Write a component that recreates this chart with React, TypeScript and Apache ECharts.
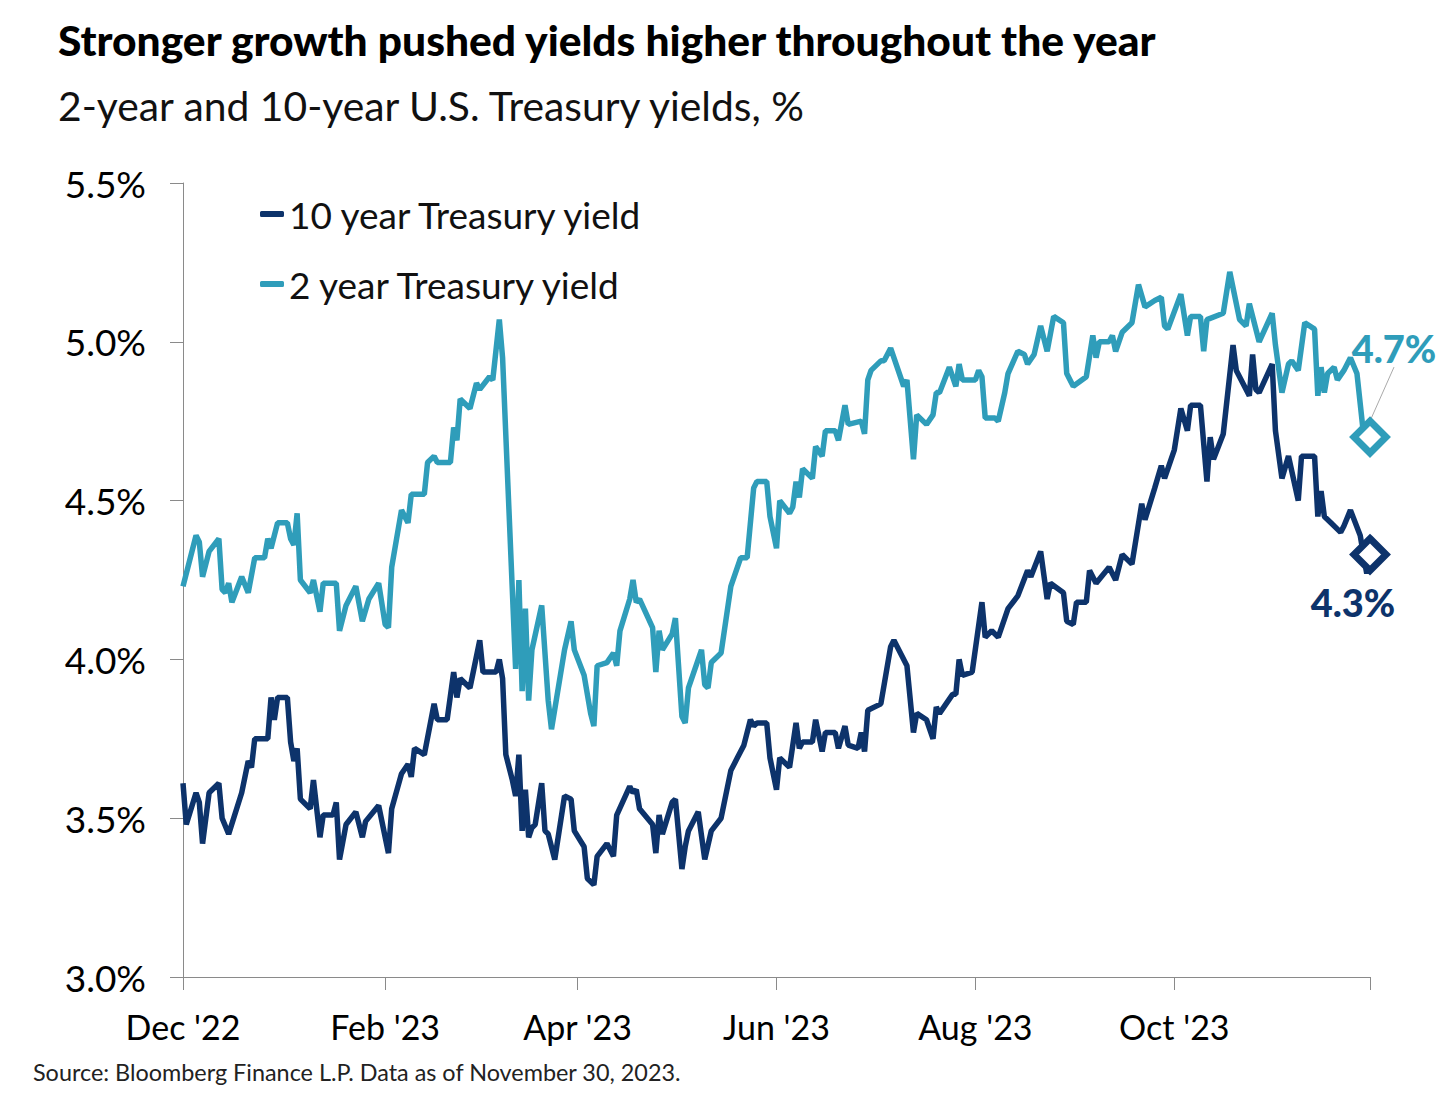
import React, { useEffect, useRef } from 'react';
import * as echarts from 'echarts';

const NAVY = '#0d336b';
const TEAL = '#2f9dba';
const AXIS = '#8a8a8a';
const FONT = 'Lato, "Noto Sans", sans-serif';

const seriesNames = ['10 year Treasury yield', '2 year Treasury yield'];

const tenYearDates = [
  '2022-12-01','2022-12-02','2022-12-05','2022-12-06','2022-12-07','2022-12-09','2022-12-12','2022-12-13','2022-12-15','2022-12-19',
  '2022-12-21','2022-12-22','2022-12-23','2022-12-27','2022-12-28','2022-12-29','2022-12-30','2023-01-02','2023-01-03','2023-01-04',
  '2023-01-05','2023-01-06','2023-01-09','2023-01-10','2023-01-12','2023-01-13','2023-01-16','2023-01-17','2023-01-18','2023-01-20',
  '2023-01-23','2023-01-25','2023-01-26','2023-01-30','2023-01-31','2023-02-02','2023-02-03','2023-02-06','2023-02-08','2023-02-09',
  '2023-02-10','2023-02-13','2023-02-16','2023-02-17','2023-02-20','2023-02-22','2023-02-23','2023-02-24','2023-02-27','2023-02-28',
  '2023-03-02','2023-03-03','2023-03-07','2023-03-08','2023-03-09','2023-03-10','2023-03-12','2023-03-13','2023-03-14','2023-03-15',
  '2023-03-16','2023-03-17','2023-03-18','2023-03-19','2023-03-21','2023-03-22','2023-03-23','2023-03-25','2023-03-28','2023-03-30',
  '2023-03-31','2023-04-03','2023-04-04','2023-04-06','2023-04-07','2023-04-10','2023-04-12','2023-04-13','2023-04-17','2023-04-18',
  '2023-04-19','2023-04-20','2023-04-24','2023-04-25','2023-04-26','2023-04-27','2023-04-30','2023-05-01','2023-05-03','2023-05-04',
  '2023-05-05','2023-05-08','2023-05-10','2023-05-12','2023-05-15','2023-05-18','2023-05-20','2023-05-22','2023-05-24','2023-05-25',
  '2023-05-26','2023-05-29','2023-05-30','2023-06-01','2023-06-02','2023-06-05','2023-06-07','2023-06-08','2023-06-09','2023-06-12',
  '2023-06-13','2023-06-15','2023-06-16','2023-06-19','2023-06-20','2023-06-22','2023-06-23','2023-06-26','2023-06-27','2023-06-28',
  '2023-06-29','2023-07-03','2023-07-06','2023-07-07','2023-07-11','2023-07-13','2023-07-14','2023-07-17','2023-07-19','2023-07-20',
  '2023-07-21','2023-07-25','2023-07-26','2023-07-27','2023-07-28','2023-07-31','2023-08-03','2023-08-04','2023-08-06','2023-08-08',
  '2023-08-11','2023-08-14','2023-08-17','2023-08-18','2023-08-21','2023-08-23','2023-08-24','2023-08-28','2023-08-29','2023-08-31',
  '2023-09-01','2023-09-04','2023-09-05','2023-09-07','2023-09-11','2023-09-13','2023-09-15','2023-09-18','2023-09-21','2023-09-22',
  '2023-09-25','2023-09-27','2023-09-28','2023-10-01','2023-10-03','2023-10-05','2023-10-06','2023-10-09','2023-10-11','2023-10-12',
  '2023-10-13','2023-10-16','2023-10-19','2023-10-20','2023-10-24','2023-10-25','2023-10-26','2023-10-27','2023-10-31','2023-11-01',
  '2023-11-03','2023-11-05','2023-11-08','2023-11-09','2023-11-13','2023-11-14','2023-11-15','2023-11-16','2023-11-18','2023-11-21',
  '2023-11-22','2023-11-24','2023-11-27','2023-11-29','2023-11-30',
];
const tenYearValues = [
  3.61,3.48,3.58,3.55,3.42,3.58,3.61,3.50,3.45,3.58,
  3.68,3.66,3.75,3.75,3.88,3.81,3.88,3.88,3.74,3.68,
  3.72,3.56,3.53,3.62,3.44,3.51,3.51,3.55,3.37,3.48,
  3.52,3.44,3.49,3.54,3.49,3.39,3.53,3.64,3.67,3.63,
  3.72,3.70,3.86,3.81,3.81,3.96,3.88,3.94,3.91,3.96,
  4.06,3.96,3.96,4.00,3.94,3.70,3.62,3.57,3.70,3.46,
  3.59,3.44,3.47,3.48,3.61,3.46,3.45,3.37,3.57,3.56,
  3.46,3.41,3.31,3.29,3.38,3.42,3.38,3.51,3.60,3.58,
  3.59,3.53,3.48,3.39,3.51,3.45,3.55,3.56,3.34,3.41,
  3.46,3.52,3.37,3.46,3.50,3.65,3.69,3.73,3.81,3.79,
  3.80,3.80,3.69,3.59,3.69,3.66,3.80,3.72,3.74,3.74,
  3.81,3.71,3.77,3.77,3.72,3.79,3.73,3.72,3.77,3.71,
  3.84,3.86,4.04,4.06,3.98,3.77,3.83,3.81,3.75,3.85,
  3.83,3.89,3.89,4.00,3.95,3.96,4.18,4.07,4.09,4.07,
  4.16,4.20,4.28,4.26,4.34,4.19,4.24,4.21,4.12,4.11,
  4.18,4.18,4.28,4.24,4.29,4.25,4.33,4.30,4.49,4.44,
  4.54,4.61,4.57,4.66,4.79,4.72,4.80,4.80,4.56,4.70,
  4.63,4.71,4.99,4.91,4.83,4.96,4.85,4.84,4.93,4.72,
  4.57,4.64,4.50,4.64,4.64,4.45,4.53,4.45,4.43,4.40,
  4.42,4.47,4.39,4.27,4.33,
];

const twoYearDates = [
  '2022-12-01','2022-12-05','2022-12-06','2022-12-07','2022-12-09','2022-12-12','2022-12-13','2022-12-14','2022-12-15','2022-12-16',
  '2022-12-19','2022-12-21','2022-12-23','2022-12-26','2022-12-27','2022-12-28','2022-12-30','2023-01-02','2023-01-03','2023-01-04',
  '2023-01-05','2023-01-06','2023-01-09','2023-01-10','2023-01-12','2023-01-13','2023-01-17','2023-01-18','2023-01-20','2023-01-23',
  '2023-01-25','2023-01-27','2023-01-30','2023-02-01','2023-02-02','2023-02-03','2023-02-06','2023-02-08','2023-02-09','2023-02-13',
  '2023-02-14','2023-02-16','2023-02-17','2023-02-21','2023-02-22','2023-02-23','2023-02-24','2023-02-27','2023-03-01','2023-03-02',
  '2023-03-05','2023-03-06','2023-03-08','2023-03-09','2023-03-13','2023-03-14','2023-03-15','2023-03-16','2023-03-17','2023-03-18',
  '2023-03-21','2023-03-23','2023-03-24','2023-03-28','2023-03-30','2023-03-31','2023-04-03','2023-04-05','2023-04-06','2023-04-07',
  '2023-04-10','2023-04-12','2023-04-13','2023-04-14','2023-04-17','2023-04-18','2023-04-19','2023-04-20','2023-04-24','2023-04-25',
  '2023-04-26','2023-04-27','2023-04-30','2023-05-01','2023-05-03','2023-05-04','2023-05-05','2023-05-09','2023-05-10','2023-05-11',
  '2023-05-12','2023-05-15','2023-05-18','2023-05-21','2023-05-23','2023-05-25','2023-05-26','2023-05-29','2023-05-30','2023-06-01',
  '2023-06-02','2023-06-05','2023-06-06','2023-06-07','2023-06-08','2023-06-09','2023-06-12','2023-06-13','2023-06-15','2023-06-16',
  '2023-06-19','2023-06-20','2023-06-22','2023-06-23','2023-06-27','2023-06-28','2023-06-29','2023-06-30','2023-07-03','2023-07-04',
  '2023-07-06','2023-07-10','2023-07-11','2023-07-13','2023-07-14','2023-07-17','2023-07-19','2023-07-20','2023-07-21','2023-07-24',
  '2023-07-26','2023-07-27','2023-07-28','2023-08-01','2023-08-02','2023-08-03','2023-08-04','2023-08-07','2023-08-08','2023-08-10',
  '2023-08-11','2023-08-14','2023-08-16','2023-08-17','2023-08-19','2023-08-21','2023-08-23','2023-08-25','2023-08-28','2023-08-29',
  '2023-08-31','2023-09-04','2023-09-06','2023-09-07','2023-09-08','2023-09-11','2023-09-12','2023-09-13','2023-09-15','2023-09-18',
  '2023-09-20','2023-09-22','2023-09-25','2023-09-27','2023-09-28','2023-09-29','2023-10-03','2023-10-05','2023-10-06','2023-10-09',
  '2023-10-10','2023-10-11','2023-10-16','2023-10-18','2023-10-21','2023-10-23','2023-10-24','2023-10-27','2023-10-31','2023-11-01',
  '2023-11-03','2023-11-05','2023-11-06','2023-11-08','2023-11-10','2023-11-13','2023-11-14','2023-11-15','2023-11-16','2023-11-17',
  '2023-11-19','2023-11-20','2023-11-22','2023-11-24','2023-11-26','2023-11-28','2023-11-30',
];
const twoYearValues = [
  4.23,4.39,4.37,4.26,4.34,4.38,4.22,4.21,4.24,4.18,
  4.26,4.21,4.32,4.32,4.38,4.35,4.43,4.43,4.38,4.36,
  4.46,4.25,4.21,4.25,4.15,4.24,4.24,4.09,4.17,4.23,
  4.12,4.19,4.24,4.11,4.10,4.29,4.47,4.43,4.52,4.52,
  4.62,4.64,4.62,4.62,4.73,4.69,4.82,4.79,4.87,4.85,
  4.89,4.88,5.07,4.95,3.97,4.25,3.90,4.16,3.87,4.03,
  4.17,3.87,3.78,4.03,4.12,4.03,3.95,3.83,3.79,3.98,
  3.99,4.02,3.98,4.09,4.19,4.25,4.18,4.19,4.10,3.96,
  4.09,4.03,4.08,4.13,3.82,3.80,3.91,4.03,3.92,3.91,
  3.99,4.02,4.23,4.32,4.32,4.54,4.56,4.56,4.45,4.35,
  4.50,4.46,4.48,4.56,4.51,4.60,4.57,4.67,4.64,4.72,
  4.72,4.69,4.80,4.74,4.75,4.71,4.88,4.91,4.94,4.94,
  4.98,4.86,4.88,4.63,4.77,4.74,4.77,4.84,4.84,4.92,
  4.86,4.93,4.88,4.88,4.91,4.89,4.76,4.76,4.75,4.84,
  4.90,4.97,4.96,4.93,4.96,5.05,4.97,5.08,5.06,4.90,
  4.86,4.89,5.02,4.95,5.00,5.00,5.02,4.97,5.03,5.06,
  5.18,5.11,5.13,5.14,5.05,5.04,5.15,5.02,5.08,5.08,
  4.97,5.07,5.09,5.22,5.07,5.05,5.12,5.00,5.09,4.99,
  4.84,4.93,4.94,4.91,5.06,5.04,4.83,4.92,4.84,4.90,
  4.92,4.88,4.91,4.95,4.90,4.71,4.70,
];

const axisStart = '2022-12-01';
const axisEnd = '2023-11-30';
const xLabelDates = ['2022-12-01', '2023-02-01', '2023-04-01', '2023-06-01', '2023-08-01', '2023-10-01'];
const xTickDates = [...xLabelDates, '2023-11-30'];
const monthNames = ['Jan', 'Feb', 'Mar', 'Apr', 'May', 'Jun', 'Jul', 'Aug', 'Sep', 'Oct', 'Nov', 'Dec'];

const yMin = 3.0;
const yMax = 5.5;
const yStep = 0.5;

const titleText = 'Stronger growth pushed yields higher throughout the year';
const subtitleText = '2-year and 10-year U.S. Treasury yields, %';
const sourceText = 'Source: Bloomberg Finance L.P. Data as of November 30, 2023.';

function ts(s: string): number {
  const [y, m, d] = s.split('-').map(Number);
  return new Date(y, m - 1, d).getTime();
}

function pairs(dates: string[], values: number[]) {
  return dates.map((d, i) => [ts(d), values[i]]);
}

export default function App() {
  const ref = useRef<HTMLDivElement>(null);

  useEffect(() => {
    if (!ref.current) return;
    const chart = echarts.init(ref.current, undefined, { renderer: 'svg' });

    const tenLast = tenYearValues.length - 1;
    const twoLast = twoYearValues.length - 1;

    const option: any = {
      animation: false,
      backgroundColor: '#ffffff',
      title: [
        {
          text: titleText,
          left: 58,
          top: 17,
          padding: 0,
          textStyle: { fontFamily: FONT, fontSize: 42.5, fontWeight: 900, color: '#000', lineHeight: 44 },
        },
        {
          text: subtitleText,
          left: 58,
          top: 84,
          padding: 0,
          textStyle: { fontFamily: FONT, fontSize: 40.8, fontWeight: 'normal', color: '#111', lineHeight: 42 },
        },
        {
          text: sourceText,
          left: 33,
          top: 1059,
          padding: 0,
          textStyle: { fontFamily: FONT, fontSize: 23.4, fontWeight: 'normal', color: '#222', lineHeight: 26 },
        },
      ],
      legend: {
        data: seriesNames,
        orient: 'vertical',
        left: 260,
        top: 193,
        padding: 0,
        itemGap: 28,
        itemWidth: 24,
        itemHeight: 6,
        icon: 'roundRect',
        textStyle: { fontFamily: FONT, fontSize: 37, color: '#111', lineHeight: 42 },
      },
      grid: { left: 183, right: 70, top: 183, bottom: 125, containLabel: false },
      xAxis: {
        type: 'value',
        min: ts(axisStart),
        max: ts(axisEnd),
        axisLine: { show: true, lineStyle: { color: AXIS, width: 1 } },
        axisTick: { show: true, length: 13, lineStyle: { color: AXIS, width: 1 }, customValues: xTickDates.map(ts) },
        axisLabel: {
          customValues: xLabelDates.map(ts),
          fontFamily: FONT,
          fontSize: 34,
          color: '#000',
          margin: 32,
          formatter: (v: number) => {
            const d = new Date(v);
            return `${monthNames[d.getMonth()]} '${String(d.getFullYear()).slice(2)}`;
          },
        },
        splitLine: { show: false },
      },
      yAxis: {
        type: 'value',
        min: yMin,
        max: yMax,
        interval: yStep,
        axisLine: { show: true, lineStyle: { color: AXIS, width: 1 } },
        axisTick: { show: true, length: 13, lineStyle: { color: AXIS, width: 1 } },
        axisLabel: {
          fontFamily: FONT,
          fontSize: 37,
          color: '#000',
          margin: 37,
          formatter: (v: number) => `${v.toFixed(1)}%`,
        },
        splitLine: { show: false },
      },
      series: [
        {
          name: seriesNames[0],
          type: 'line',
          data: pairs(tenYearDates, tenYearValues),
          symbol: 'none',
          color: NAVY,
          lineStyle: { color: NAVY, width: 5.5 },
          z: 3,
        },
        {
          name: seriesNames[1],
          type: 'line',
          data: pairs(twoYearDates, twoYearValues),
          symbol: 'none',
          color: TEAL,
          lineStyle: { color: TEAL, width: 5.5 },
          z: 2,
        },
        {
          name: 'end2',
          type: 'scatter',
          data: [[ts(twoYearDates[twoLast]), twoYearValues[twoLast]]],
          symbol: 'diamond',
          symbolSize: 32,
          itemStyle: { color: '#ffffff', borderColor: TEAL, borderWidth: 7, opacity: 1 },
          label: {
            show: true,
            position: 'inside',
            formatter: (p: any) => `${p.value[1].toFixed(1)}%`,
            fontFamily: FONT,
            fontSize: 38,
            fontWeight: 900,
            color: TEAL,
          },
          labelLayout: { dx: 24, dy: -89 },
          labelLine: { show: true, lineStyle: { color: '#aaaaaa', width: 1 } },
          z: 10,
        },
        {
          name: 'end10',
          type: 'scatter',
          data: [[ts(tenYearDates[tenLast]), tenYearValues[tenLast]]],
          symbol: 'diamond',
          symbolSize: 32,
          itemStyle: { color: '#ffffff', borderColor: NAVY, borderWidth: 7, opacity: 1 },
          label: {
            show: true,
            position: 'inside',
            formatter: (p: any) => `${p.value[1].toFixed(1)}%`,
            fontFamily: FONT,
            fontSize: 38,
            fontWeight: 900,
            color: NAVY,
          },
          labelLayout: { dx: -17, dy: 47 },
          z: 10,
        },
      ],
    };

    chart.setOption(option);
    return () => chart.dispose();
  }, []);

  return (
    <div
      ref={ref}
      style={{ position: 'absolute', left: 0, top: 0, width: 1440, height: 1102, background: '#fff' }}
    />
  );
}
